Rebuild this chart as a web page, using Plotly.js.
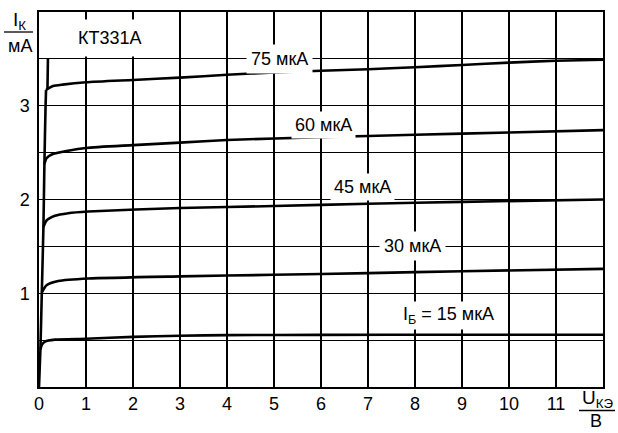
<!DOCTYPE html>
<html>
<head>
<meta charset="utf-8">
<script src="https://cdn.plot.ly/plotly-3.0.1.min.js"></script>
<style>html,body{margin:0;padding:0;background:#fff;}#chart{width:618px;height:433px;}</style>
</head>
<body>
<div id="chart"></div>
<script>
// ---- data (U_КЭ in V, I_К in mA) ----
const ib15_u = [0.03, 0.06, 0.13, 0.34, 1, 2, 3, 4, 6, 9, 12];
const ib15_i = [0.40, 0.45, 0.485, 0.505, 0.515, 0.535, 0.547, 0.553, 0.556, 0.557, 0.558];

const ib30_u = [0.06, 0.16, 0.41, 1.05, 3, 5, 7, 9, 12];
const ib30_i = [1.01, 1.086, 1.13, 1.157, 1.18, 1.197, 1.215, 1.235, 1.26];

const ib45_u = [0.094, 0.16, 0.34, 0.62, 1.05, 3, 5, 7, 9, 12];
const ib45_i = [1.705, 1.776, 1.826, 1.854, 1.872, 1.91, 1.93, 1.955, 1.975, 2.0];

const ib60_u = [0.115, 0.16, 0.27, 0.62, 1, 2, 3, 4, 6, 8, 10, 12];
const ib60_i = [2.38, 2.44, 2.48, 2.52, 2.55, 2.58, 2.607, 2.635, 2.665, 2.69, 2.715, 2.74];

const ib75_u = [0.15, 0.22, 0.3, 0.5, 1, 2, 3, 4, 5, 7, 8, 9, 10, 11, 12];
const ib75_i = [3.17, 3.19, 3.21, 3.225, 3.25, 3.275, 3.30, 3.33, 3.355, 3.39, 3.41, 3.435, 3.46, 3.48, 3.49];

// steep initial (saturation) boundary
const sat_u = [0, 0.03, 0.06, 0.094, 0.115, 0.14, 0.15];
const sat_i = [0, 0.40, 1.01, 1.705, 2.38, 3.0, 3.17];
const satTop_u = [0.18, 0.19];
const satTop_i = [3.18, 3.5];

const curveLabels = ['I<sub>Б</sub> = 15 мкА', '30 мкА', '45 мкА', '60 мкА', '75 мкА'];
const xTickVals = [0,1,2,3,4,5,6,7,8,9,10,11];
const xTickText = ['0','1','2','3','4','5','6','7','8','9','10','11'];
const yTickVals = [1,2,3];
const yTickText = ['1','2','3'];
const deviceName = 'КТ331А';

// ---- drawing ----
const FONT = '"Liberation Sans", Arial, sans-serif';
const lineStyle = {color: '#000', width: 2.6, shape: 'spline', smoothing: 0.6};
function tr(u, i) {
  return {x: u, y: i, mode: 'lines', line: lineStyle, hoverinfo: 'skip', showlegend: false};
}
const traces = [
  tr(sat_u, sat_i), tr(satTop_u, satTop_i),
  tr(ib15_u, ib15_i), tr(ib30_u, ib30_i), tr(ib45_u, ib45_i),
  tr(ib60_u, ib60_i), tr(ib75_u, ib75_i)
];

const W = 618, H = 433;
const M = {l: 39, r: 15, t: 12, b: 46};
const PW = W - M.l - M.r, PH = H - M.t - M.b;
const px = x => (x - M.l) / PW;           // pixel -> paper x
const py = y => (H - M.b - y) / PH;       // pixel -> paper y

function lab(text, x, y, pad, size) {
  return {text: text, x: x, y: y, xref: 'x', yref: 'y', showarrow: false,
          font: {family: FONT, size: size || 18, color: '#000'},
          bgcolor: '#fff', borderpad: pad === undefined ? 3 : pad,
          xanchor: 'center', yanchor: 'middle'};
}
function plab(text, x, y, size) {
  return {text: text, x: px(x), y: py(y), xref: 'paper', yref: 'paper', showarrow: false,
          font: {family: FONT, size: size || 17, color: '#000'},
          xanchor: 'center', yanchor: 'middle'};
}

const annotations = [
  lab(curveLabels[0], 8.72, 0.76, 2),
  lab(curveLabels[1], 7.95, 1.50, 4),
  lab(curveLabels[2], 6.88, 2.13, 3),
  lab(curveLabels[3], 6.05, 2.80, 3),
  lab(curveLabels[4], 5.12, 3.50, 4),
  lab(deviceName, 1.5, 3.72, 8, 18),
  plab('I<sub>К</sub>', 19, 21, 19),
  plab('мА', 20, 46, 18),
  plab('U<sub>КЭ</sub>', 597, 399, 19),
  plab('В', 596, 421, 18)
];

const shapes = [
  {type: 'line', xref: 'paper', yref: 'paper', x0: px(4), x1: px(33), y0: py(32), y1: py(32),
   line: {color: '#000', width: 1.3}},
  {type: 'line', xref: 'paper', yref: 'paper', x0: px(579), x1: px(615), y0: py(410.5), y1: py(410.5),
   line: {color: '#000', width: 1.3}}
];

const gridStyle = {showgrid: true, gridcolor: '#000', gridwidth: 1.2};
const layout = {
  width: W, height: H, margin: M,
  paper_bgcolor: '#fff', plot_bgcolor: '#fff',
  showlegend: false,
  font: {family: FONT, size: 16, color: '#000'},
  xaxis: Object.assign({range: [0, 12], tickmode: 'array', tickvals: xTickVals, ticktext: xTickText,
          zeroline: false,
          showline: true, linecolor: '#000', linewidth: 1.6, mirror: true,
          ticks: '', ticklabelstandoff: 0, tickfont: {family: FONT, size: 18, color: '#000'},
          minor: {tick0: 0, dtick: 1, showgrid: true, gridcolor: '#000', gridwidth: 1.2, ticks: ''},
          fixedrange: true}, gridStyle),
  yaxis: Object.assign({range: [0, 4], tickmode: 'array', tickvals: yTickVals, ticktext: yTickText,
          zeroline: false,
          showline: true, linecolor: '#000', linewidth: 1.6, mirror: true,
          ticks: '', ticklabelstandoff: 4, tickfont: {family: FONT, size: 18, color: '#000'},
          minor: {tick0: 0, dtick: 0.5, showgrid: true, gridcolor: '#000', gridwidth: 1.2, ticks: ''},
          fixedrange: true}, gridStyle),
  annotations: annotations,
  shapes: shapes
};

Plotly.newPlot('chart', traces, layout, {staticPlot: true, displayModeBar: false});
</script>
</body>
</html>
